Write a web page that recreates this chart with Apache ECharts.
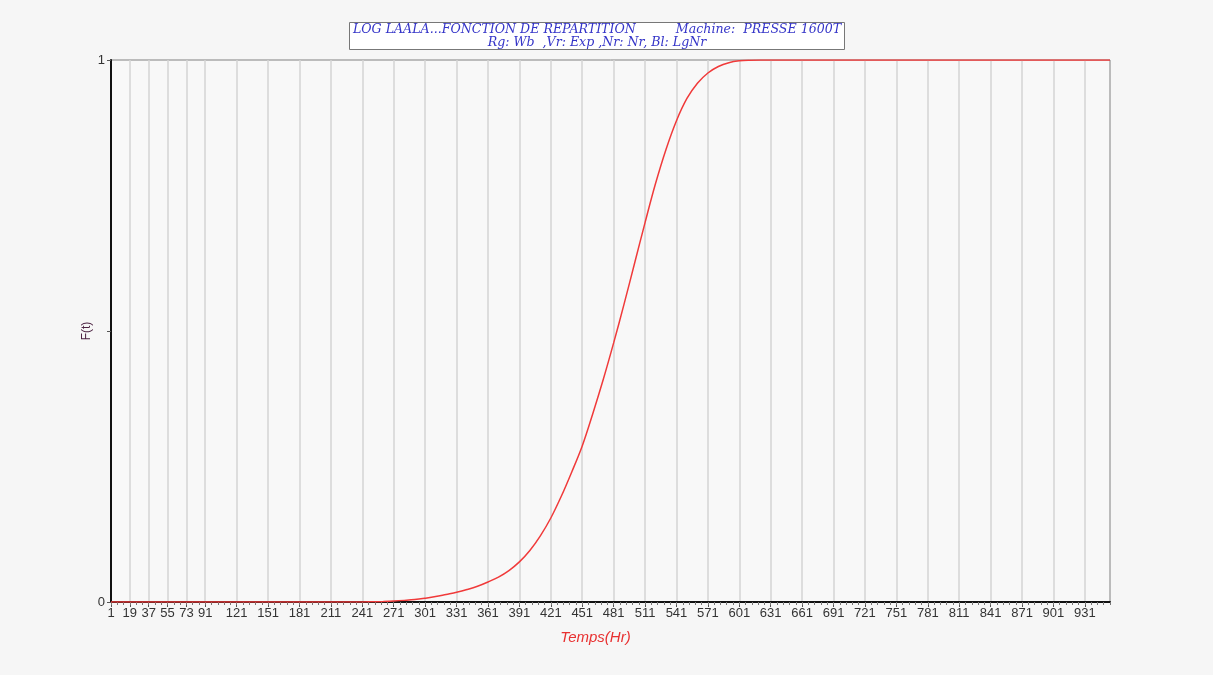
<!DOCTYPE html>
<html>
<head>
<meta charset="utf-8">
<title>Fonction de répartition</title>
<script src="https://cdn.jsdelivr.net/npm/echarts@6/dist/echarts.min.js"></script>
<style>
  html, body { margin: 0; padding: 0; background: #f6f6f6; }
  #chart { width: 1213px; height: 675px; }
</style>
</head>
<body>
<div id="chart"></div>
<script>
// valeurs (temps en heures, F(t))
var temps = [1, 101, 201, 241, 251, 261, 271, 281, 291, 301, 311, 321, 331, 341, 351, 361, 371, 381,
  391, 401, 411, 421, 431, 441, 451, 461, 471, 481, 491, 501, 511, 521, 531, 541, 551, 561,
  571, 581, 591, 601, 611, 621, 701, 801, 901, 955];
var repartition = [0, 0, 0, 0, 0.0004, 0.001, 0.0018, 0.003, 0.0045, 0.007, 0.010, 0.014, 0.018, 0.023,
  0.029, 0.037, 0.046, 0.058, 0.074, 0.095, 0.122, 0.155, 0.195, 0.240, 0.288, 0.347, 0.410,
  0.478, 0.550, 0.625, 0.700, 0.772, 0.835, 0.888, 0.929, 0.957, 0.976, 0.988, 0.995, 0.9985,
  0.9997, 1, 1, 1, 1, 1];
// graduations de l'axe des temps
var xTicks = [1, 19, 37, 55, 73, 91, 121, 151, 181, 211, 241, 271, 301, 331, 361, 391, 421, 451,
  481, 511, 541, 571, 601, 631, 661, 691, 721, 751, 781, 811, 841, 871, 901, 931];

var minorTicks = [];
for (var t = 1; t <= 955; t += 6) minorTicks.push(t);

var chart = echarts.init(document.getElementById('chart'));

var points = temps.map(function (x, i) { return [x, repartition[i]]; });

chart.setOption({
  backgroundColor: '#f6f6f6',
  animation: false,
  title: {
    text: 'LOG LAALA...FONCTION DE REPARTITION          Machine:  PRESSE 1600T\nRg: Wb  ,Vr: Exp ,Nr: Nr, Bl: LgNr',
    left: 593,
    top: 22,
    padding: [1, 4, 1, 4],
    backgroundColor: '#ffffff',
    borderColor: '#777',
    borderWidth: 1,
    textAlign: 'center',
    textStyle: {
      fontFamily: 'DejaVu Serif',
      fontStyle: 'italic',
      fontWeight: 'normal',
      fontSize: 12.6,
      lineHeight: 13,
      color: '#3434c8'
    }
  },
  grid: {
    left: 111,
    right: 103,
    top: 60,
    bottom: 73,
    show: true,
    backgroundColor: '#f8f8f8',
    borderColor: '#808080',
    borderWidth: 1
  },
  xAxis: [{
    type: 'value',
    min: 1,
    max: 955,
    name: 'Temps(Hr)',
    nameLocation: 'middle',
    nameGap: 28,
    nameTextStyle: {
      color: '#e83030', fontStyle: 'italic', fontSize: 15,
      fontFamily: 'Liberation Sans', padding: [0, 30, 0, 0]
    },
    axisLine: { lineStyle: { color: '#111', width: 2 } },
    axisTick: { show: true, length: 5, customValues: xTicks, lineStyle: { color: '#555' } },
    axisLabel: {
      customValues: xTicks,
      color: '#333',
      fontSize: 13,
      fontFamily: 'Liberation Sans',
      margin: 5,
      hideOverlap: false
    },
    splitLine: { show: true, lineStyle: { color: '#d4d4d4', width: 1.5 } }
  }, {
    type: 'value',
    min: 1,
    max: 955,
    position: 'bottom',
    axisLine: { show: false },
    axisTick: { show: true, length: 3, customValues: minorTicks, lineStyle: { color: '#777' } },
    axisLabel: { show: false },
    splitLine: { show: false }
  }],
  yAxis: {
    type: 'value',
    min: 0,
    max: 1,
    interval: 0.5,
    name: 'F(t)',
    nameLocation: 'middle',
    nameGap: 18,
    nameMoveOverlap: false,
    nameRotate: 90,
    nameTextStyle: { color: '#4a2040', fontSize: 12, fontFamily: 'Liberation Sans' },
    axisLine: { show: true, lineStyle: { color: '#111', width: 2 } },
    axisTick: { show: true, length: 4, lineStyle: { color: '#555' } },
    axisLabel: {
      color: '#333',
      fontSize: 13,
      fontFamily: 'Liberation Sans',
      margin: 6,
      formatter: function (v) { return v === 0.5 ? '' : String(v); }
    },
    splitLine: { show: false }
  },
  series: [{
    type: 'line',
    data: points,
    smooth: 0.35,
    showSymbol: false,
    lineStyle: { color: '#f03a3a', width: 1.5 },
    z: 5
  }]
});
</script>
</body>
</html>
